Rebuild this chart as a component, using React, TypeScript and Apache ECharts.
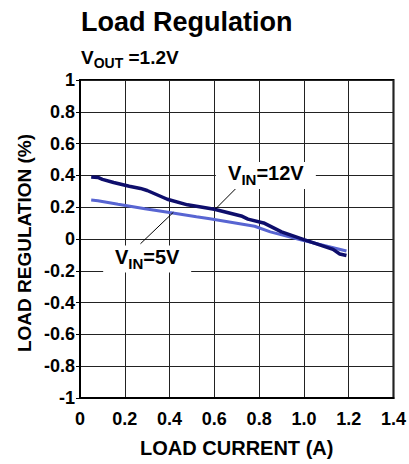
import React, { useEffect, useRef } from "react";
import * as echarts from "echarts";

const FONT = "'Liberation Sans', Arial, sans-serif";

// VIN = 12V curve
const current12 = [0.05, 0.08, 0.1, 0.15, 0.22, 0.27, 0.3, 0.39, 0.48, 0.6, 0.72, 0.75, 0.82, 0.9, 1.0, 1.13, 1.16, 1.19];
const reg12 = [0.39, 0.387, 0.375, 0.355, 0.332, 0.318, 0.305, 0.25, 0.215, 0.187, 0.145, 0.125, 0.101, 0.045, -0.004, -0.065, -0.094, -0.104];

// VIN = 5V curve
const current5 = [0.05, 0.08, 0.17, 0.29, 0.4, 0.52, 0.58, 0.78, 0.85, 0.99, 1.19];
const reg5 = [0.245, 0.241, 0.218, 0.19, 0.166, 0.14, 0.128, 0.08, 0.045, -0.006, -0.075];

// annotation anchors (data coordinates)
const label12 = [0.83, 0.4];
const leader12 = [[0.606, 0.19], [0.724, 0.357]];
const label5 = [0.3, -0.126];
const leader5 = [[0.27, -0.03], [0.417, 0.168]];

const xTicks = { min: 0, max: 1.4, interval: 0.2 };
const yTicks = { min: -1, max: 1, interval: 0.2 };

const fmtY = (v: number) => {
  const r = Math.round(v * 10) / 10;
  if (r === 0) return "0";
  if (Math.abs(r) === 1) return String(r);
  return r.toFixed(1);
};
const fmtX = (v: number) => {
  const r = Math.round(v * 10) / 10;
  if (r === 0) return "0";
  return r.toFixed(1);
};

const subRich = {
  v: { fontSize: 20, fontWeight: "bold", fontFamily: FONT, color: "#000", lineHeight: 24, verticalAlign: "top" },
  s: { fontSize: 15, fontWeight: "bold", fontFamily: FONT, color: "#000", lineHeight: 16, padding: [9, 0, 0, 0], verticalAlign: "top" },
};

export default function App() {
  const ref = useRef<HTMLDivElement>(null);
  useEffect(() => {
    if (!ref.current) return;
    const chart = echarts.init(ref.current, null, { renderer: "svg" });
    const zip = (xs: number[], ys: number[]) => xs.map((x, i) => [x, ys[i]]);
    chart.setOption({
      animation: false,
      backgroundColor: "#fff",
      grid: { left: 80, right: 10, top: 80, bottom: 66, show: true, borderColor: "#000", borderWidth: 2, backgroundColor: "transparent" },
      graphic: [
        {
          type: "text", left: 81, top: 8,
          style: { text: "Load Regulation", font: `bold 27px ${FONT}`, fill: "#000" },
        },
        {
          type: "text", left: 81, top: 48,
          style: {
            text: "{v|V}{s|OUT}{v| =1.2V}",
            rich: {
              v: { fontSize: 19, fontFamily: FONT, fontWeight: "bold", fill: "#000", lineHeight: 22, verticalAlign: "top" },
              s: { fontSize: 14, fontFamily: FONT, fontWeight: "bold", fill: "#000", lineHeight: 14, padding: [8, 0, 0, 0], verticalAlign: "top" },
            },
          },
        },
        {
          type: "text", x: 24, y: 243, rotation: Math.PI / 2,
          style: { text: "LOAD REGULATION (%)", font: `bold 19px ${FONT}`, fill: "#000", textAlign: "center", textVerticalAlign: "middle" },
        },
      ],
      xAxis: {
        type: "value", ...xTicks,
        name: "LOAD CURRENT (A)", nameLocation: "middle", nameGap: 40,
        nameTextStyle: { fontSize: 20, fontWeight: "bold", fontFamily: FONT, color: "#000" },
        axisLine: { show: true, onZero: false, lineStyle: { color: "#000", width: 2 } },
        axisTick: { show: false },
        axisLabel: { formatter: fmtX, fontSize: 18, fontWeight: "bold", fontFamily: FONT, color: "#000", margin: 12 },
        splitLine: { show: true, lineStyle: { color: "#222", width: 1 } },
      },
      yAxis: {
        type: "value", ...yTicks,
        axisLine: { show: true, onZero: false, lineStyle: { color: "#000", width: 2 } },
        axisTick: { show: true, length: 4, lineStyle: { color: "#000", width: 1 } },
        axisLabel: { formatter: fmtY, fontSize: 18, fontWeight: "bold", fontFamily: FONT, color: "#000", margin: 5 },
        splitLine: { show: true, lineStyle: { color: "#222", width: 1 } },
      },
      series: [
        {
          name: "VIN=5V", type: "line", data: zip(current5, reg5), showSymbol: false, z: 3,
          lineStyle: { color: "#5865d2", width: 3 },
          itemStyle: { color: "#5865d2" },
          markLine: {
            silent: true, symbol: "none", label: { show: false },
            lineStyle: { color: "#000", width: 1, type: "solid" },
            data: [[{ coord: leader5[0] }, { coord: leader5[1] }], [{ coord: leader12[0] }, { coord: leader12[1] }]],
          },
        },
        {
          name: "VIN=12V", type: "line", data: zip(current12, reg12), showSymbol: false, z: 4,
          lineStyle: { color: "#0e0e6c", width: 3.5 },
          itemStyle: { color: "#0e0e6c" },
          markPoint: {
            silent: true, symbol: "rect",
            itemStyle: { color: "#fff" },
            data: [
              {
                coord: label12, symbolSize: [100, 27],
                label: { show: true, position: "inside", formatter: "{v|V}{s|IN}{v|=12V}", rich: subRich },
              },
              {
                coord: label5, symbolSize: [88, 27],
                label: { show: true, position: "inside", formatter: "{v|V}{s|IN}{v|=5V}", rich: subRich },
              },
            ],
          },
        },
      ],
    });
    return () => chart.dispose();
  }, []);
  return <div ref={ref} style={{ width: 409, height: 464, position: "absolute", left: 0, top: 0 }} />;
}
